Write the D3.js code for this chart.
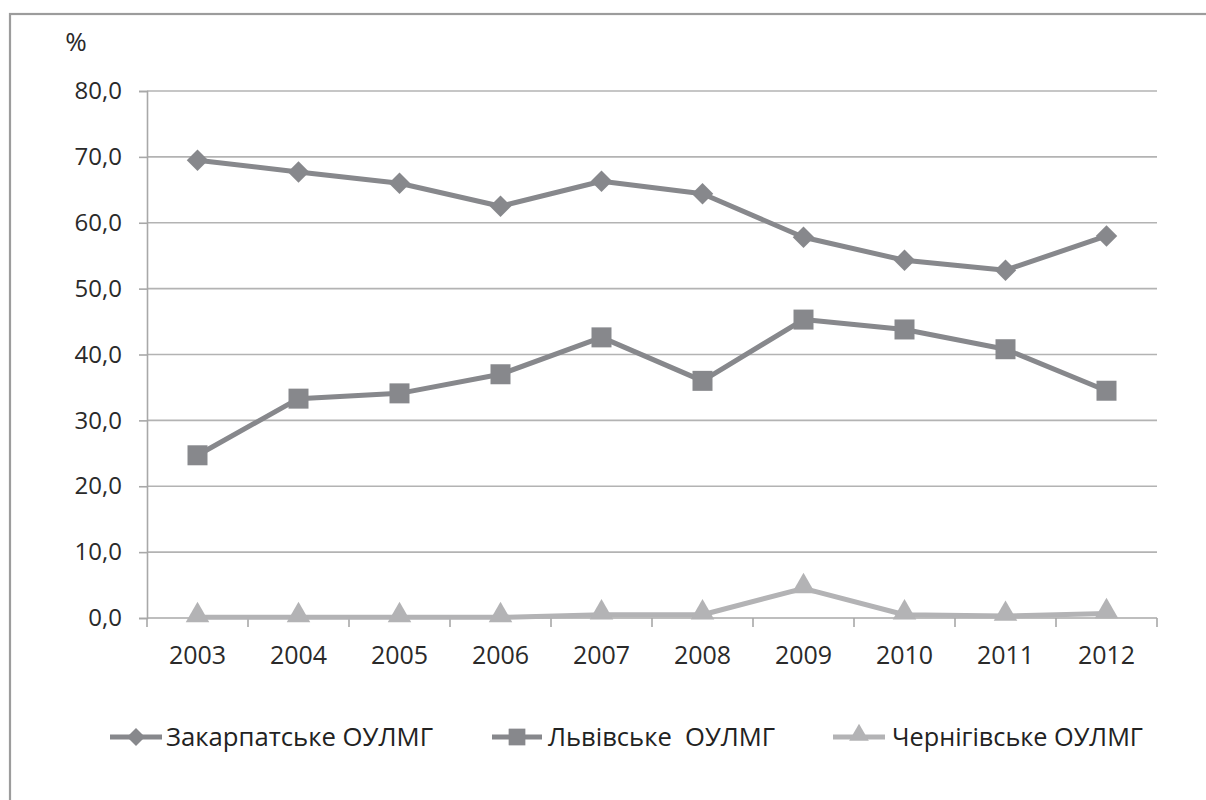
<!DOCTYPE html>
<html>
<head>
<meta charset="utf-8">
<script src="https://cdn.jsdelivr.net/npm/d3@7"></script>
<style>
  html, body { margin: 0; padding: 0; background: #fff; overflow: hidden; }
  svg { display: block; }
  text { font-family: "Open Sans", "DejaVu Sans", sans-serif; }
</style>
</head>
<body>
<svg id="chart" width="1206" height="800"></svg>
<script>
const years = ["2003","2004","2005","2006","2007","2008","2009","2010","2011","2012"];
const zakarpatske = [69.5, 67.7, 66.0, 62.5, 66.3, 64.4, 57.8, 54.3, 52.8, 58.0];
const lvivske = [24.7, 33.3, 34.1, 37.0, 42.6, 36.0, 45.3, 43.8, 40.8, 34.5];
const chernihivske = [0.1, 0.1, 0.1, 0.1, 0.5, 0.5, 4.5, 0.5, 0.3, 0.7];
const seriesNames = ["Закарпатське ОУЛМГ", "Львівське  ОУЛМГ", "Чернігівське ОУЛМГ"];
const yTicks = [0, 10, 20, 30, 40, 50, 60, 70, 80];
const yUnit = "%";

const svg = d3.select("#chart");
const plotLeft = 147, plotRight = 1157, plotTop = 91, plotBottom = 618;

// outer frame (right and bottom edges fall outside the picture)
svg.append("rect").attr("x", 10).attr("y", 14).attr("width", 1220).attr("height", 820)
  .attr("fill", "none").attr("stroke", "#9c9c9c").attr("stroke-width", 2.2);

const x = d3.scaleBand().domain(years).range([plotLeft, plotRight]);
const y = d3.scaleLinear().domain([0, 80]).range([plotBottom, plotTop]);

// gridlines
svg.append("g").selectAll("line").data(yTicks.filter(d => d > 0)).join("line")
  .attr("x1", plotLeft).attr("x2", plotRight)
  .attr("y1", d => y(d)).attr("y2", d => y(d))
  .attr("stroke", "#b3b3b3").attr("stroke-width", 1.6);

// y axis
const yAxis = d3.axisLeft(y).tickValues(yTicks)
  .tickFormat(d => d.toFixed(1).replace(".", ","))
  .tickSize(8).tickPadding(17);
const gy = svg.append("g").attr("transform", `translate(${plotLeft},0)`).call(yAxis);
gy.select(".domain").attr("stroke", "#a8a8a8").attr("stroke-width", 1.6);
gy.selectAll(".tick line").attr("stroke", "#a8a8a8").attr("stroke-width", 1.6);
gy.selectAll(".tick text").attr("font-size", 24).attr("fill", "#2a2a2a")
  .attr("font-family", "'Open Sans', sans-serif");

// x axis
const xAxis = d3.axisBottom(x).tickSize(0).tickPadding(28);
const gx = svg.append("g").attr("transform", `translate(0,${plotBottom})`).call(xAxis);
gx.select(".domain").remove();
gx.selectAll(".tick text").attr("font-size", 25).attr("fill", "#2a2a2a")
  .attr("font-family", "'Open Sans', sans-serif");
svg.append("line").attr("x1", plotLeft).attr("x2", plotRight).attr("y1", plotBottom).attr("y2", plotBottom)
  .attr("stroke", "#a8a8a8").attr("stroke-width", 1.6);
const boundaries = years.map(d => x(d)).concat([x(years[years.length - 1]) + x.bandwidth()]);
svg.append("g").selectAll("line").data(boundaries).join("line")
  .attr("x1", d => d).attr("x2", d => d).attr("y1", plotBottom).attr("y2", plotBottom + 9)
  .attr("stroke", "#a8a8a8").attr("stroke-width", 1.6);

// unit label
svg.append("text").attr("x", 76).attr("y", 51).attr("text-anchor", "middle")
  .attr("font-size", 26).attr("fill", "#2a2a2a").text(yUnit);

const series = [
  { name: seriesNames[0], values: zakarpatske, color: "#87888c", symbol: d3.symbolSquare, size: 230, rotate: 45 },
  { name: seriesNames[1], values: lvivske, color: "#87888c", symbol: d3.symbolSquare, size: 400, rotate: 0 },
  { name: seriesNames[2], values: chernihivske, color: "#b3b3b5", symbol: d3.symbolTriangle, size: 240, rotate: 0 }
];

const line = d3.line().x((d, i) => x(years[i]) + x.bandwidth() / 2).y(d => y(d));

series.slice().reverse().forEach(s => {
  const g = svg.append("g");
  g.append("path").datum(s.values).attr("d", line)
    .attr("fill", "none").attr("stroke", s.color).attr("stroke-width", 5)
    .attr("stroke-linejoin", "round");
  g.selectAll("path.m").data(s.values).join("path").attr("class", "m")
    .attr("d", d3.symbol(s.symbol, s.size))
    .attr("transform", (d, i) => `translate(${x(years[i]) + x.bandwidth() / 2},${y(d) + (s.symbol === d3.symbolTriangle ? -2 : 0)}) rotate(${s.rotate})`)
    .attr("fill", s.color);
});

// legend
const legendY = 737;
const legendItems = [
  { x1: 110, x2: 162, tx: 166, tw: 267 },
  { x1: 492, x2: 542, tx: 548, tw: 227 },
  { x1: 833, x2: 885, tx: 892, tw: 251 }
];
legendItems.forEach((it, i) => {
  const s = series[i];
  const g = svg.append("g");
  g.append("line").attr("x1", it.x1).attr("x2", it.x2).attr("y1", legendY).attr("y2", legendY)
    .attr("stroke", s.color).attr("stroke-width", 5);
  g.append("path").attr("d", d3.symbol(s.symbol, s.size * 0.7))
    .attr("transform", `translate(${(it.x1 + it.x2) / 2},${legendY + (s.symbol === d3.symbolTriangle ? -2 : 0)}) rotate(${s.rotate})`)
    .attr("fill", s.color);
  g.append("text").attr("x", it.tx).attr("y", legendY + 9)
    .attr("font-size", 25).attr("fill", "#222")
    .attr("textLength", it.tw).attr("lengthAdjust", "spacingAndGlyphs")
    .style("white-space", "pre")
    .text(s.name);
});
</script>
</body>
</html>
